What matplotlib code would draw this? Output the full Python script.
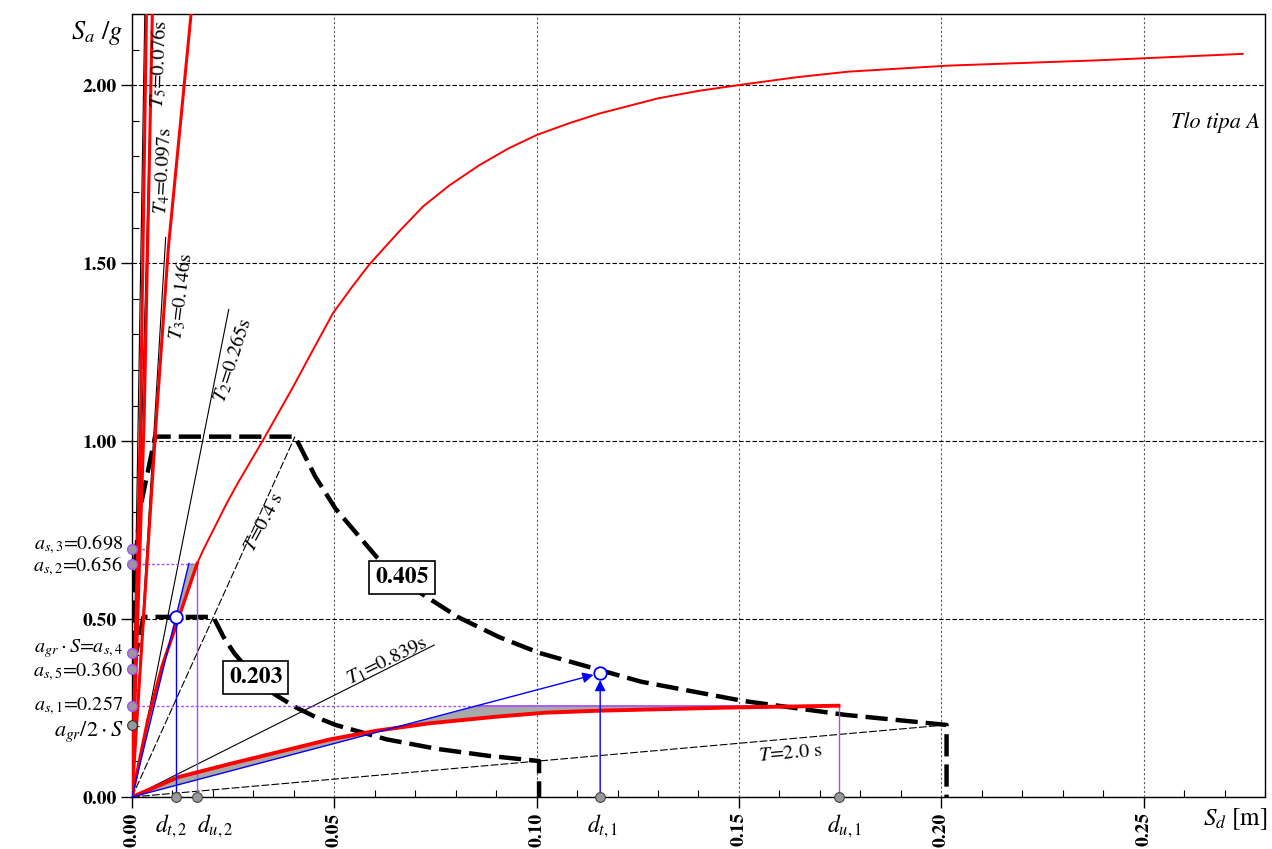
import numpy as np
import matplotlib
matplotlib.use('Agg')
import matplotlib.pyplot as plt
import matplotlib.transforms as mtransforms
from matplotlib.ticker import MultipleLocator, FormatStrFormatter

plt.rcParams['font.family'] = ['STIXGeneral', 'DejaVu Serif']
plt.rcParams['mathtext.fontset'] = 'stix'

G = 9.81

# ---- elastic spectra in ADRS form (Sd [m], Sa/g) ----
sd_405 = [0.0, 0.00038, 0.0020, 0.0057, 0.0403, 0.0453, 0.0503, 0.0604, 0.0705,
          0.0805, 0.0906, 0.1006, 0.1258, 0.1510, 0.1761, 0.2013, 0.2013]
sa_405 = [0.405, 0.608, 0.810, 1.0125, 1.0125, 0.900, 0.810, 0.675, 0.579,
          0.506, 0.450, 0.405, 0.324, 0.270, 0.231, 0.2025, 0.0]
sd_203 = [0.0, 0.00019, 0.0010, 0.00285, 0.0201, 0.0226, 0.0252, 0.0302, 0.0352,
          0.0403, 0.0453, 0.0503, 0.0629, 0.0755, 0.0881, 0.1006, 0.1006]
sa_203 = [0.2025, 0.304, 0.405, 0.506, 0.506, 0.450, 0.405, 0.3375, 0.289,
          0.253, 0.225, 0.2025, 0.162, 0.135, 0.1157, 0.101, 0.0]

# ---- period lines ----
periods = [0.076, 0.097, 0.146, 0.265, 0.4, 0.839, 2.0]
period_sa_end = [2.3, 1.90, 1.572, 1.37, 1.0125, 0.427, 0.2025]
period_dashed = [False, False, False, False, True, False, True]
period_labels = [r'$T_5$=0.076s', r'$T_4$=0.097s', r'$T_3$=0.146s', r'$T_2$=0.265s',
                 r'$T$=0.4 s', r'$T_1$=0.839s', r'$T$=2.0 s']

# ---- capacity curves ----
# higher modes (steep)
red_a_sd = [0.0, 0.0021, 0.0037]
red_a_sa = [0.0, 1.06, 2.3]
red_b_sd = [0.0, 0.0030, 0.0052]
red_b_sa = [0.0, 1.06, 2.3]
red_c_sd = [0.0, 0.0060, 0.0090, 0.0146, 0.0155]
red_c_sa = [0.0, 1.06, 1.545, 2.2, 2.3]

# mode 2
red2_sd = [0.0, 0.0039, 0.0075, 0.01135, 0.0161]
red2_sa = [0.0, 0.216, 0.370, 0.497, 0.656]
red2_ext_sd = [0.0161, 0.0176, 0.0234, 0.0261, 0.0324, 0.0398, 0.0450, 0.0497, 0.0545,
               0.0587, 0.0661, 0.0720, 0.0784, 0.0858, 0.0930, 0.1000, 0.1080, 0.1154,
               0.1300, 0.1400, 0.1510, 0.1640, 0.1770, 0.2018, 0.2390, 0.2745]
red2_ext_sa = [0.656, 0.694, 0.825, 0.881, 1.003, 1.152, 1.262, 1.360, 1.435,
               1.497, 1.590, 1.660, 1.718, 1.775, 1.822, 1.860, 1.893, 1.920,
               1.963, 1.984, 2.002, 2.022, 2.038, 2.055, 2.070, 2.088]

# mode 1
red1_sd = [0.0, 0.0115, 0.0242, 0.0488, 0.0603, 0.0735, 0.0900, 0.1023, 0.1154, 0.1480, 0.1746]
red1_sa = [0.0, 0.056, 0.093, 0.1615, 0.186, 0.207, 0.2256, 0.237, 0.2425, 0.2514, 0.2565]

# bilinear idealisation and target points
dy1, as1, du1, dt1, sat1 = 0.0858, 0.257, 0.1746, 0.1157, 0.348
dy2, as2, du2, dt2, sat2 = 0.01406, 0.656, 0.0161, 0.0109, 0.506

# y axis markers
as_values = [0.698, 0.656, 0.405, 0.360, 0.257]
as_labels = [r'$a_{s,3}$=0.698', r'$a_{s,2}$=0.656', r'$a_{gr}\cdot S$=$a_{s,4}$',
             r'$a_{s,5}$=0.360', r'$a_{s,1}$=0.257']
agr_half = 0.2025

PURPLE = '#a64dff'
GREY = '#a8a8a8'

fig = plt.figure(figsize=(12.72, 8.49), dpi=100)
ax = fig.add_axes([132 / 1272, 52 / 849, 1133 / 1272, 783 / 849])
ax.set_xlim(0, 0.28)
ax.set_ylim(0, 2.2)

# grid
ax.xaxis.set_major_locator(MultipleLocator(0.05))
ax.xaxis.set_minor_locator(MultipleLocator(0.01))
ax.yaxis.set_major_locator(MultipleLocator(0.5))
ax.yaxis.set_minor_locator(MultipleLocator(0.1))
ax.xaxis.set_major_formatter(FormatStrFormatter('%.2f'))
ax.yaxis.set_major_formatter(FormatStrFormatter('%.2f'))
ax.set_axisbelow(True)
ax.xaxis.grid(True, which='major', color='0.35', linestyle=(0, (2, 2)), linewidth=0.8)
ax.yaxis.grid(True, which='major', color='black', linestyle=(0, (4, 2)), linewidth=0.8)
ax.tick_params(axis='both', which='major', direction='out', length=8, width=1,
               labelsize=14, pad=3)
ax.tick_params(axis='both', which='minor', direction='in', length=5, width=0.8)
ax.tick_params(axis='x', labelrotation=90)
for lab in ax.get_xticklabels() + ax.get_yticklabels():
    lab.set_fontweight('bold')

# gray areas between capacity curves and bilinear idealisations
poly1_x = list(red1_sd) + [du1, dy1, 0.0]
poly1_y = list(red1_sa) + [as1, as1, 0.0]
ax.fill(poly1_x, poly1_y, color=GREY, lw=0, zorder=2)
poly2_x = list(red2_sd) + [du2, dy2, 0.0]
poly2_y = list(red2_sa) + [as2, as2, 0.0]
ax.fill(poly2_x, poly2_y, color=GREY, lw=0, zorder=2)

# period lines
label_pos = [(0.00666, 2.058, 88), (0.00765, 1.758, 87), (0.0122, 1.407, 83),
             (0.0249, 1.227, 72), (0.0328, 0.772, 62), (0.0629, 0.382, 26), (0.1628, 0.121, 5)]
for T, sa_end, dashed, lab, (lx, ly, rot) in zip(periods, period_sa_end, period_dashed,
                                                 period_labels, label_pos):
    k = 4 * np.pi ** 2 / (G * T ** 2)
    ls = (0, (7, 2)) if dashed else '-'
    ax.plot([0, sa_end / k], [0, sa_end], color='black', lw=0.8, ls=ls, zorder=3)
    ax.text(lx, ly, lab, rotation=rot, fontsize=14.5, ha='center', va='center',
            rotation_mode='anchor', zorder=6)

# spectra
ax.plot(sd_405, sa_405, color='black', lw=3.2, ls=(0, (5, 1.8)), zorder=4)
ax.plot(sd_203, sa_203, color='black', lw=3.2, ls=(0, (5, 1.8)), zorder=4)
box = dict(boxstyle='square,pad=0.25', fc='white', ec='black', lw=1.2)
ax.text(0.0667, 0.6166, '0.405', fontsize=17, fontweight='bold', ha='center',
        va='center', bbox=box, zorder=7)
ax.text(0.0306, 0.3357, '0.203', fontsize=17, fontweight='bold', ha='center',
        va='center', bbox=box, zorder=7)

# purple guide lines
ax.plot([0, du2], [as2, as2], color=PURPLE, lw=1, ls=(0, (2, 1.5)), zorder=4)
ax.plot([du2, du2], [0, as2], color=PURPLE, lw=1, zorder=4)
ax.plot([0, dy1], [as1, as1], color=PURPLE, lw=1, ls=(0, (2, 1.5)), zorder=4)
ax.plot([dy1, du1], [as1, as1], color=PURPLE, lw=1.2, zorder=4)
ax.plot([du1, du1], [0, as1], color=PURPLE, lw=1, zorder=4)
ax.plot([0, 0.004], [as_values[0], as_values[0]], color=PURPLE, lw=1, ls=(0, (2, 1.5)), zorder=4)

# capacity curves
ax.plot(red_a_sd, red_a_sa, color='red', lw=2.2, zorder=5)
ax.plot(red_b_sd, red_b_sa, color='red', lw=2.2, zorder=5)
ax.plot(red_c_sd, red_c_sa, color='red', lw=2.2, zorder=5)
ax.plot(red2_sd, red2_sa, color='red', lw=2.4, zorder=5)
ax.plot(red2_ext_sd, red2_ext_sa, color='red', lw=1.4, zorder=5)
ax.plot(red1_sd, red1_sa, color='red', lw=2.8, zorder=5)

# blue elastic branches and target displacements
ax.plot([0, dy2], [0, as2], color='blue', lw=1, zorder=5)
ax.plot([dt2, dt2], [0, sat2], color='blue', lw=1, zorder=5)
arrow = dict(arrowstyle='-|>', color='blue', lw=1, mutation_scale=16, shrinkA=0, shrinkB=5)
ax.annotate('', xy=(dt1, sat1), xytext=(0, 0), arrowprops=arrow, zorder=5)
ax.annotate('', xy=(dt1, sat1), xytext=(dt1, 0), arrowprops=arrow, zorder=5)
ax.plot([dt2, dt1], [sat2, sat1], ls='none', marker='o', ms=9, mfc='white',
        mec='blue', mew=1.3, zorder=8)

# markers on the axes
ax.plot([dt2, du2, dt1, du1], [0, 0, 0, 0], ls='none', marker='o', ms=7, mfc='#999999',
        mec='#444444', mew=0.8, clip_on=False, zorder=9)
ax.plot([0] * len(as_values), as_values, ls='none', marker='o', ms=7, mfc='#999999',
        mec=PURPLE, mew=1, clip_on=False, zorder=9)
ax.plot([0], [agr_half], ls='none', marker='o', ms=7, mfc='#999999', mec='#333333',
        mew=0.8, clip_on=False, zorder=9)

# side labels (slightly spread so the crowded pairs stay readable)
ytrans = mtransforms.blended_transform_factory(ax.transAxes, ax.transData)
label_shift = [0.012, -0.008, 0.012, -0.008, 0.0]
for v, lab, dv in zip(as_values, as_labels, label_shift):
    ax.text(-0.008, v + dv, lab, transform=ytrans, fontsize=14.5, ha='right', va='center')
ax.text(-0.008, agr_half - 0.02, r'$a_{gr}/2\cdot S$', transform=ytrans, fontsize=16,
        ha='right', va='center')

xtrans = mtransforms.blended_transform_factory(ax.transData, ax.transAxes)
for x, lab in zip([0.00964, 0.0205, 0.1164, 0.176],
                  [r'$d_{t,2}$', r'$d_{u,2}$', r'$d_{t,1}$', r'$d_{u,1}$']):
    ax.text(x, -0.037, lab, transform=xtrans, fontsize=17, ha='center', va='center')

ax.text(-0.031, 0.9757, r'$S_a$ /$g$', transform=ax.transAxes, fontsize=19,
        ha='center', va='center')
ax.text(0.9735, -0.028, r'$S_d$ [m]', transform=ax.transAxes, fontsize=18,
        ha='center', va='center')
ax.text(0.9956, 0.862, 'Tlo tipa A', transform=ax.transAxes, fontsize=16,
        style='italic', ha='right', va='center')

for sp in ax.spines.values():
    sp.set_linewidth(1.0)

fig.savefig('out.png', dpi=100)
